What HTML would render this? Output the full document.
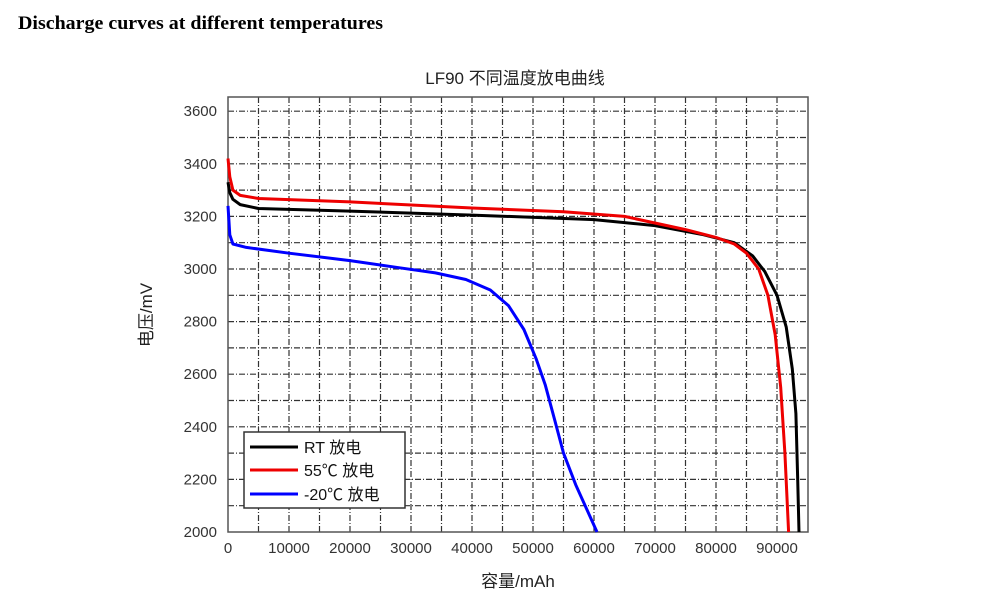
<!DOCTYPE html>
<html><head><meta charset="utf-8"><style>
body{margin:0;background:#fff;width:1000px;height:613px;overflow:hidden}
svg{display:block}
</style></head><body>
<svg id="s" width="1000" height="613" xmlns="http://www.w3.org/2000/svg" font-family="'Liberation Sans','Noto Sans CJK SC',sans-serif">
<text x="18" y="29" font-family="'Liberation Serif',serif" font-weight="bold" font-size="19" textLength="365" lengthAdjust="spacingAndGlyphs" fill="#000">Discharge curves at different temperatures</text>
<text x="515" y="84" text-anchor="middle" font-size="17" fill="#222">LF90 不同温度放电曲线</text>
<g id="grid" stroke="#333" stroke-width="1.2" stroke-dasharray="6,2,1,2"></g>
<rect x="228" y="97" width="580" height="435" fill="none" stroke="#555" stroke-width="1.5"/>
<g id="ticks" font-size="15" fill="#333"></g>
<text x="518" y="587" text-anchor="middle" font-size="17" fill="#222">容量/mAh</text>
<text transform="translate(152,315) rotate(-90)" text-anchor="middle" font-size="17" fill="#222">电压/mV</text>
<g id="curves" fill="none" stroke-width="3" stroke-linejoin="round"></g>
<rect x="244" y="432" width="161" height="76" fill="#fff" stroke="#333" stroke-width="1.5"/>
<line x1="250" y1="447" x2="298" y2="447" stroke="#000" stroke-width="3"/>
<line x1="250" y1="470" x2="298" y2="470" stroke="#e00" stroke-width="3"/>
<line x1="250" y1="494" x2="298" y2="494" stroke="#00f" stroke-width="3"/>
<text x="304" y="453" font-size="16" fill="#111">RT 放电</text>
<text x="304" y="476" font-size="16" fill="#111">55℃ 放电</text>
<text x="304" y="500" font-size="16" fill="#111">-20℃ 放电</text>
</svg>
<script>
var NS="http://www.w3.org/2000/svg";
function X(v){return 228+v*0.0061}
function Y(m){return 532-(m-2000)*0.263}
function el(p,t,a,txt){var e=document.createElementNS(NS,t);for(var k in a)e.setAttribute(k,a[k]);if(txt)e.textContent=txt;document.getElementById(p).appendChild(e)}
for(var v=5000;v<95000;v+=5000){var x=X(v);el("grid","line",{x1:x,y1:97,x2:x,y2:532})}
for(var m=2100;m<=3600;m+=100){var y=Y(m);el("grid","line",{x1:228,y1:y,x2:808,y2:y})}
for(var v=0;v<=90000;v+=10000)el("ticks","text",{x:X(v),y:553,"text-anchor":"middle"},String(v));
for(var m=2000;m<=3600;m+=200)el("ticks","text",{x:217,y:Y(m)+5,"text-anchor":"end"},String(m));
function path(pts,c){var d="";pts.forEach(function(p,i){d+=(i?"L":"M")+X(p[0]).toFixed(1)+","+Y(p[1]).toFixed(1)});el("curves","path",{d:d,stroke:c})}
path([[0,3330],[300,3290],[800,3265],[2000,3245],[5000,3230],[20000,3220],[40000,3205],[60000,3188],[70000,3165],[78000,3130],[83000,3100],[86000,3050],[88000,2990],[90000,2900],[91500,2780],[92500,2620],[93100,2450],[93400,2200],[93600,2000]],"#000");
path([[0,3420],[300,3350],[800,3300],[2000,3280],[5000,3268],[20000,3255],[40000,3232],[55000,3218],[65000,3200],[75000,3150],[80000,3120],[83000,3095],[85000,3060],[87000,3000],[88500,2900],[89700,2750],[90600,2550],[91300,2300],[91900,2000]],"#e00");
path([[0,3240],[300,3130],[800,3095],[3000,3082],[10000,3060],[20000,3032],[28000,3005],[34000,2985],[39000,2960],[43000,2920],[46000,2860],[48500,2770],[50500,2660],[52000,2560],[53500,2430],[55000,2300],[57000,2180],[60500,2000]],"#00f");
</script>
</body></html>
